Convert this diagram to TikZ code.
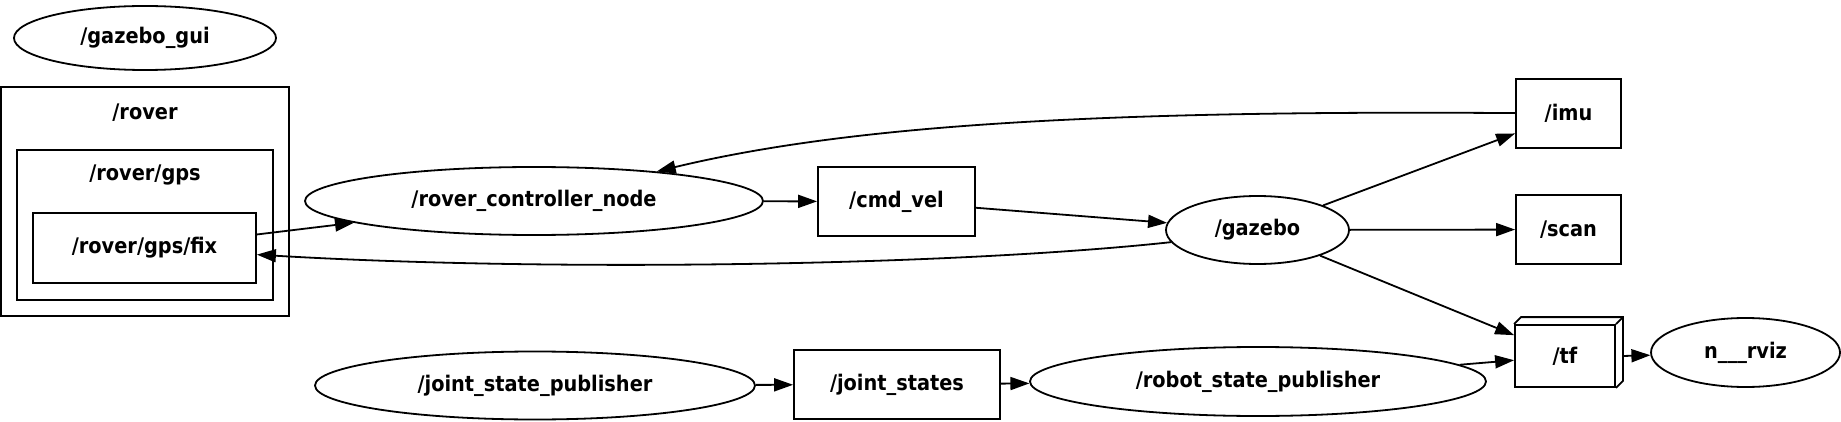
\documentclass[tikz,border=0pt]{standalone}
\usepackage{fontspec}
\setmainfont{DejaVu Sans Condensed}
\usetikzlibrary{arrows.meta,shapes.geometric,positioning}

\begin{document}
\begin{tikzpicture}[
  x=1pt, y=-1pt,
  font=\fontsize{21.5}{24}\selectfont\bfseries,
  line width=1.8pt,
  rnode/.style={ellipse, draw, inner sep=0pt},
  topic/.style={rectangle, draw, inner sep=0pt},
  cluster/.style={rectangle, draw, inner sep=0pt},
  >={Triangle[length=19pt, width=13pt]}
]
  \useasboundingbox (0,0) rectangle (1841,422);

  % left column
  \node[rnode, minimum width=262, minimum height=64] (gui) at (145,38) {/gazebo\_gui};
  \node[cluster, minimum width=288, minimum height=229] (rover) at (145,201.5) {};
  \node (roverlbl) at (145,113) {/rover};
  \node[cluster, minimum width=256, minimum height=150] (gps) at (145,225) {};
  \node (gpslbl) at (145,175) {/rover/gps};
  \node[topic, minimum width=223, minimum height=70] (fix) at (144.5,248) {/rover/gps/fix};

  % middle
  \node[rnode, minimum width=458, minimum height=68] (rcn) at (534,201) {/rover\_controller\_node};
  \node[topic, minimum width=157, minimum height=69] (cmd) at (896.5,201.5) {/cmd\_vel};
  \node[rnode, minimum width=183, minimum height=68] (gz) at (1257.5,230) {/gazebo};

  % right column
  \node[topic, minimum width=105, minimum height=69] (imu) at (1568.5,113.5) {/imu};
  \node[topic, minimum width=105, minimum height=69] (scan) at (1568.5,229.5) {/scan};
  \node[topic, minimum width=100, minimum height=62] (tf) at (1565,356) {/tf};
  \draw (tf.north west) -- ++(7,-7) -- ([shift={(7,-7)}]tf.north east)
        -- ([shift={(7,-7)}]tf.south east) -- (tf.south east);
  \draw (tf.north east) -- ++(7,-7);
  \node[rnode, minimum width=189, minimum height=69] (rviz) at (1745.5,352.5) {n\_\_\_rviz};

  % bottom row
  \node[rnode, minimum width=440, minimum height=68] (jsp) at (535,385.5) {/joint\_state\_publisher};
  \node[topic, minimum width=206, minimum height=69] (js) at (897,384.5) {/joint\_states};
  \node[rnode, minimum width=456, minimum height=69] (rsp) at (1258,381.5) {/robot\_state\_publisher};

  % edges
  \draw[->] (fix) -- (rcn);
  \draw[->] (rcn) -- (cmd);
  \draw[->] (cmd) -- (gz);
  \draw[->] (gz.188) .. controls (950,266) and (550,272) .. (fix);
  \draw[->] (imu) .. controls (1100,110) and (850,125) .. (rcn);
  \draw[->] (gz) -- (imu);
  \draw[->] (gz) -- (scan);
  \draw[->] (gz) -- (tf);
  \draw[->] (rsp) -- (tf);
  \draw[->] ([xshift=7pt]tf.east) -- (rviz);
  \draw[->] (jsp) -- (js);
  \draw[->] (js) -- (rsp);
\end{tikzpicture}
\end{document}
